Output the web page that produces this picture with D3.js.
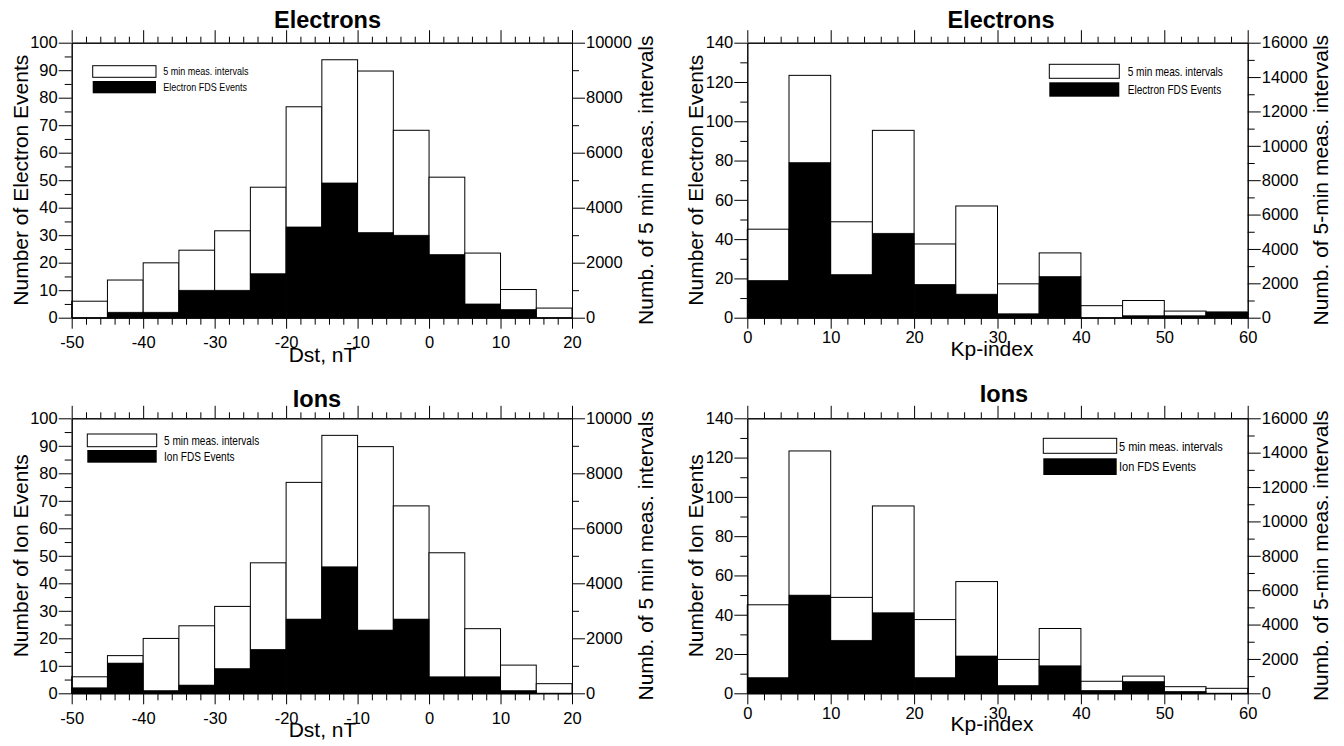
<!DOCTYPE html>
<html><head><meta charset="utf-8">
<script src="https://cdn.jsdelivr.net/npm/d3@7"></script>
<style>
body{margin:0;background:#fff;}
svg text{font-family:"Liberation Sans",Arial,Helvetica,sans-serif;fill:#000;}
</style></head><body>
<svg id="c" width="1344" height="746"></svg>
<script>
// ---------------- data ----------------
const dstBinStart = [-50,-45,-40,-35,-30,-25,-20,-15,-10,-5,0,5,10,15];
const dstIntervals = [600,1370,1995,2455,3160,4745,7670,9380,8970,6815,5110,2350,1025,350];
const dstElectronEvents = [0,2,2,10,10,16,33,49,31,30,23,5,3,0];
const dstIonEvents = [2,11,1,3,9,16,27,46,23,27,6,6,1,0];

const kpBinStart = [0,5,10,15,20,25,30,35,40,45,50,55];
const kpIntervals = [5150,14100,5580,10900,4290,6500,1970,3770,700,1000,385,290];
const kpElectronEvents = [19,79,22,43,17,12,2,21,0,1,1,3];
const kpIonEvents = [8,50,27,41,8,19,4,14,1.5,6,1,0];

const dstTicks = [-50,-40,-30,-20,-10,0,10,20];
const dstCountTicks = [0,10,20,30,40,50,60,70,80,90,100];
const dstIntervalTicks = [0,2000,4000,6000,8000,10000];
const kpTicks = [0,10,20,30,40,50,60];
const kpCountTicks = [0,20,40,60,80,100,120,140];
const kpIntervalTicks = [0,2000,4000,6000,8000,10000,12000,14000,16000];

const binWidth = 5;

// ---------------- panels ----------------
const panels = [
  {left:71.7,right:572,top:42.7,bottom:317.7,
   xDom:[-50,20],xTicks:dstTicks,xMinorStep:2,xPad:8,
   lMax:100,lTicks:dstCountTicks,lMinorStep:5,
   rMax:10000,rTicks:dstIntervalTicks,rMinorStep:1000,
   bins:dstBinStart,intervals:dstIntervals,events:dstElectronEvents,
   title:"Electrons",titleX:327.5,titleY:27.7,
   xLabel:"Dst, nT",xLabelX:322.5,xLabelY:362,
   lLabel:"Number of Electron Events",lLabelX:28,
   rLabel:"Numb. of 5 min meas. intervals",rLabelX:653,
   leg:{x:92.7,w:63.3,y1:65.7,h1:11.6,y2:81,h2:12.3,tx:163.3,fs:11,t1:"5 min meas. intervals",t2:"Electron FDS Events"}},
  {left:747.3,right:1247.7,top:42.7,bottom:317.7,
   xDom:[0,60],xTicks:kpTicks,xMinorStep:2,xPad:3,
   lMax:140,lTicks:kpCountTicks,lMinorStep:10,
   rMax:16000,rTicks:kpIntervalTicks,rMinorStep:1000,
   bins:kpBinStart,intervals:kpIntervals,events:kpElectronEvents,
   title:"Electrons",titleX:1001,titleY:27.7,
   xLabel:"Kp-index",xLabelX:992,xLabelY:356,
   lLabel:"Number of Electron Events",lLabelX:703,
   rLabel:"Numb. of 5-min meas. intervals",rLabelX:1328,
   leg:{x:1049.3,w:70,y1:64.3,h1:14,y2:82.3,h2:14.4,tx:1127.7,fs:12.3,t1:"5 min meas. intervals",t2:"Electron FDS Events"}},
  {left:71.7,right:572,top:418.3,bottom:693.3,
   xDom:[-50,20],xTicks:dstTicks,xMinorStep:2,xPad:8,
   lMax:100,lTicks:dstCountTicks,lMinorStep:5,
   rMax:10000,rTicks:dstIntervalTicks,rMinorStep:1000,
   bins:dstBinStart,intervals:dstIntervals,events:dstIonEvents,
   title:"Ions",titleX:317,titleY:406.5,
   xLabel:"Dst, nT",xLabelX:322.5,xLabelY:737,
   lLabel:"Number of Ion Events",lLabelX:28,
   rLabel:"Numb. of 5 min meas. intervals",rLabelX:653,
   leg:{x:87.3,w:69.4,y1:434,h1:12.7,y2:450,h2:12.7,tx:164,fs:12.3,t1:"5 min meas. intervals",t2:"Ion FDS Events"}},
  {left:747.3,right:1247.7,top:418.3,bottom:693.3,
   xDom:[0,60],xTicks:kpTicks,xMinorStep:2,xPad:3,
   lMax:140,lTicks:kpCountTicks,lMinorStep:10,
   rMax:16000,rTicks:kpIntervalTicks,rMinorStep:1000,
   bins:kpBinStart,intervals:kpIntervals,events:kpIonEvents,
   title:"Ions",titleX:1004,titleY:401.7,
   xLabel:"Kp-index",xLabelX:992,xLabelY:731,
   lLabel:"Number of Ion Events",lLabelX:703,
   rLabel:"Numb. of 5-min meas. intervals",rLabelX:1328,
   leg:{x:1043.3,w:73.4,y1:438.3,h1:15,y2:458.3,h2:16.7,tx:1119,fs:13.4,t1:"5 min meas. intervals",t2:"Ion FDS Events"}}
];

const svg = d3.select("#c");
const TICKFS = 16.5, LABELFS = 21;
const plainFmt = d => String(d);   // ASCII hyphen for negatives, as in the reference

function minorVals(dom, step, majors){
  return d3.range(dom[0], dom[1] + step/2, step).filter(v => !majors.some(m => Math.abs(m - v) < 1e-9));
}
function styleAxis(g){
  g.attr("font-family", null).attr("font-size", null);
  g.selectAll("path.domain").attr("stroke","#000").attr("stroke-width",1);
  g.selectAll(".tick line").attr("stroke","#000").attr("stroke-width",1);
  g.selectAll("text").attr("font-size",TICKFS).attr("fill","#000");
}

panels.forEach(p => {
  const g = svg.append("g");
  const x = d3.scaleLinear().domain(p.xDom).range([p.left, p.right]);
  const yL = d3.scaleLinear().domain([0, p.lMax]).range([p.bottom, p.top]);
  const yR = d3.scaleLinear().domain([0, p.rMax]).range([p.bottom, p.top]);

  // white bars: measurement intervals (right axis)
  g.append("g").selectAll("rect").data(p.bins.map((b,i)=>({b, v:p.intervals[i]})))
    .join("rect")
    .attr("x", d => x(d.b)).attr("width", d => x(d.b + binWidth) - x(d.b))
    .attr("y", d => yR(d.v)).attr("height", d => yR(0) - yR(d.v))
    .attr("fill","#fff").attr("stroke","#000").attr("stroke-width",1);

  // black bars: FDS events (left axis)
  g.append("g").selectAll("rect").data(p.bins.map((b,i)=>({b, v:p.events[i]})).filter(d => d.v > 0))
    .join("rect")
    .attr("x", d => x(d.b)).attr("width", d => x(d.b + binWidth) - x(d.b))
    .attr("y", d => yL(d.v)).attr("height", d => yL(0) - yL(d.v))
    .attr("fill","#000").attr("stroke","#000").attr("stroke-width",0.6);

  // axes
  const xMin = minorVals(p.xDom, p.xMinorStep, p.xTicks);
  const lMin = minorVals([0,p.lMax], p.lMinorStep, p.lTicks);
  const rMin = minorVals([0,p.rMax], p.rMinorStep, p.rTicks);

  g.append("g").attr("transform",`translate(0,${p.bottom})`)
    .call(d3.axisBottom(x).tickValues(p.xTicks).tickSize(11).tickPadding(p.xPad).tickFormat(plainFmt).tickSizeOuter(0)).call(styleAxis);
  g.append("g").attr("transform",`translate(0,${p.bottom})`)
    .call(d3.axisBottom(x).tickValues(xMin).tickSize(7).tickFormat("").tickSizeOuter(0)).call(styleAxis);
  g.append("g").attr("transform",`translate(0,${p.top})`)
    .call(d3.axisTop(x).tickValues(p.xTicks).tickSize(12.5).tickFormat("").tickSizeOuter(0)).call(styleAxis);
  g.append("g").attr("transform",`translate(0,${p.top})`)
    .call(d3.axisTop(x).tickValues(xMin).tickSize(6).tickFormat("").tickSizeOuter(0)).call(styleAxis);

  g.append("g").attr("transform",`translate(${p.left},0)`)
    .call(d3.axisLeft(yL).tickValues(p.lTicks).tickSize(13).tickPadding(1).tickFormat(plainFmt).tickSizeOuter(0)).call(styleAxis);
  g.append("g").attr("transform",`translate(${p.left},0)`)
    .call(d3.axisLeft(yL).tickValues(lMin).tickSize(7).tickFormat("").tickSizeOuter(0)).call(styleAxis);
  g.append("g").attr("transform",`translate(${p.right},0)`)
    .call(d3.axisRight(yR).tickValues(p.rTicks).tickSize(13).tickPadding(1).tickFormat(plainFmt).tickSizeOuter(0)).call(styleAxis);
  g.append("g").attr("transform",`translate(${p.right},0)`)
    .call(d3.axisRight(yR).tickValues(rMin).tickSize(7).tickFormat("").tickSizeOuter(0)).call(styleAxis);

  // titles and labels
  g.append("text").attr("x",p.titleX).attr("y",p.titleY).attr("text-anchor","middle")
    .attr("font-size",23.5).attr("font-weight","bold").text(p.title);
  g.append("text").attr("x",p.xLabelX).attr("y",p.xLabelY).attr("text-anchor","middle")
    .attr("font-size",LABELFS).text(p.xLabel);
  const cy = (p.top + p.bottom)/2;
  g.append("text").attr("transform",`translate(${p.lLabelX},${cy}) rotate(-90)`).attr("text-anchor","middle")
    .attr("font-size",LABELFS).text(p.lLabel);
  g.append("text").attr("transform",`translate(${p.rLabelX},${cy}) rotate(-90)`).attr("text-anchor","middle")
    .attr("font-size",LABELFS).text(p.rLabel);

  // legend
  const L = p.leg;
  g.append("rect").attr("x",L.x).attr("y",L.y1).attr("width",L.w).attr("height",L.h1)
    .attr("fill","#fff").attr("stroke","#000").attr("stroke-width",1);
  g.append("rect").attr("x",L.x).attr("y",L.y2).attr("width",L.w).attr("height",L.h2)
    .attr("fill","#000");
  [[L.t1, L.y1 + L.h1/2],[L.t2, L.y2 + L.h2/2]].forEach(([t,yy]) => {
    g.append("text").attr("transform",`translate(${L.tx},${yy}) scale(0.82,1)`)
      .attr("dy","0.36em").attr("font-size",L.fs).text(t);
  });
});
</script>
</body></html>
